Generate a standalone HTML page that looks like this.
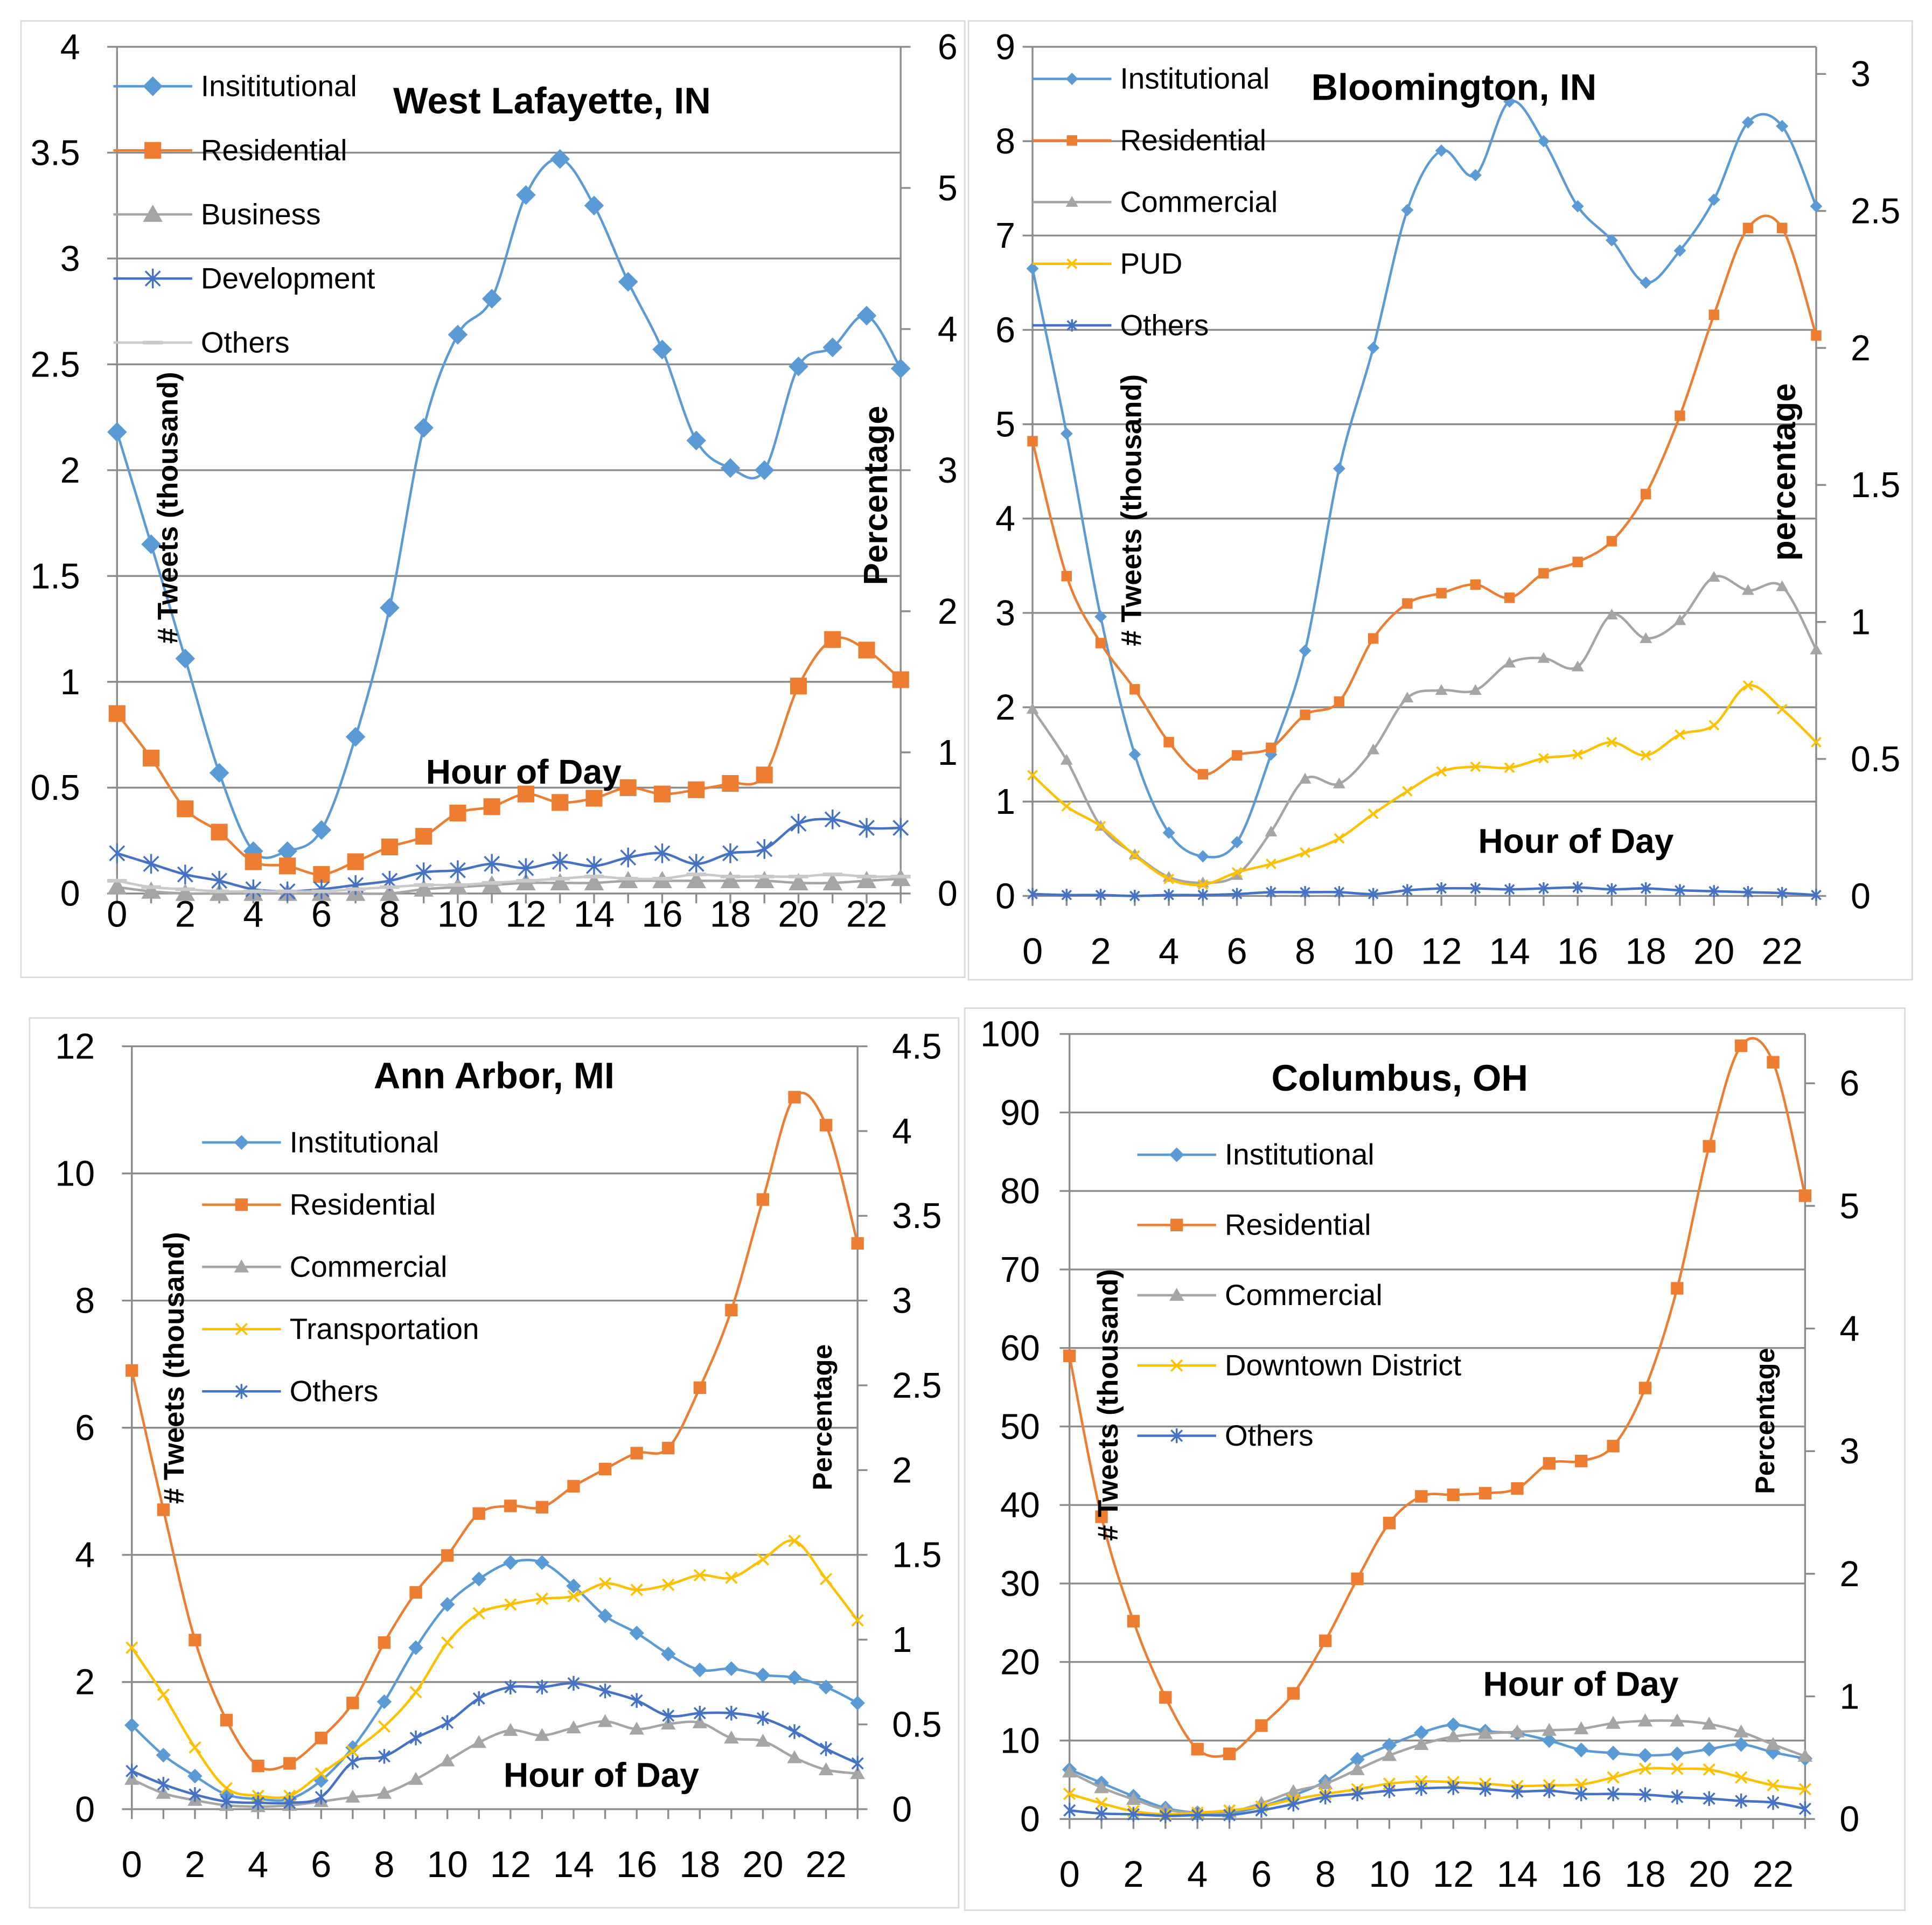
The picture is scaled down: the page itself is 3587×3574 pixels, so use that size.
<!DOCTYPE html>
<html><head><meta charset="utf-8">
<style>
html,body{margin:0;padding:0;background:#fff;}
svg{display:block;}
text{font-family:"Liberation Sans","DejaVu Sans",sans-serif;}
</style></head>
<body>
<svg id="fig" width="3587" height="3574" viewBox="0 0 1568 1562" preserveAspectRatio="none" xmlns="http://www.w3.org/2000/svg">
<rect x="0" y="0" width="1568" height="1562" fill="#fff"/>
</svg>
<script>
const hours = [0,1,2,3,4,5,6,7,8,9,10,11,12,13,14,15,16,17,18,19,20,21,22,23];
// West Lafayette
const wlInst = [2.18,1.65,1.11,0.57,0.2,0.2,0.3,0.74,1.35,2.2,2.64,2.81,3.3,3.47,3.25,2.89,2.57,2.14,2.01,2.0,2.49,2.58,2.73,2.48];
const wlRes  = [0.85,0.64,0.4,0.29,0.15,0.13,0.09,0.15,0.22,0.27,0.38,0.41,0.47,0.43,0.45,0.5,0.47,0.49,0.52,0.56,0.98,1.2,1.15,1.01];
const wlBus  = [0.03,0.01,0.0,0.0,0.0,0.0,0.0,0.0,0.0,0.02,0.03,0.04,0.05,0.05,0.05,0.06,0.06,0.06,0.06,0.06,0.05,0.05,0.06,0.07];
const wlDev  = [0.19,0.14,0.09,0.06,0.02,0.01,0.02,0.04,0.06,0.1,0.11,0.14,0.12,0.15,0.13,0.17,0.19,0.14,0.19,0.21,0.33,0.35,0.31,0.31];
const wlOth  = [0.06,0.03,0.02,0.01,0.01,0.01,0.01,0.02,0.03,0.04,0.04,0.05,0.06,0.07,0.08,0.07,0.07,0.09,0.08,0.08,0.08,0.09,0.08,0.08];
const wlLeftTicks = ["0","0.5","1","1.5","2","2.5","3","3.5","4"];
const wlRightTicks = ["0","1","2","3","4","5","6"];
// Bloomington
const blInst = [6.65,4.9,2.96,1.5,0.67,0.42,0.57,1.5,2.6,4.53,5.81,7.27,7.9,7.64,8.42,8.0,7.31,6.95,6.5,6.84,7.38,8.2,8.16,7.31];
const blRes  = [4.82,3.39,2.68,2.19,1.63,1.29,1.49,1.57,1.92,2.06,2.73,3.1,3.21,3.3,3.16,3.42,3.54,3.76,4.26,5.09,6.16,7.08,7.08,5.94];
const blCom  = [1.98,1.44,0.74,0.44,0.2,0.14,0.22,0.68,1.24,1.19,1.55,2.1,2.18,2.18,2.47,2.52,2.43,2.98,2.73,2.92,3.38,3.24,3.28,2.61];
const blPud  = [1.28,0.95,0.74,0.43,0.18,0.12,0.25,0.34,0.46,0.61,0.87,1.11,1.32,1.37,1.36,1.46,1.5,1.63,1.49,1.71,1.81,2.23,1.98,1.63];
const blOth  = [0.02,0.01,0.01,0.0,0.01,0.01,0.02,0.04,0.04,0.04,0.02,0.06,0.08,0.08,0.07,0.08,0.09,0.07,0.08,0.06,0.05,0.04,0.03,0.01];
const blLeftTicks = ["0","1","2","3","4","5","6","7","8","9"];
const blRightTicks = ["0","0.5","1","1.5","2","2.5","3"];
// Ann Arbor
const aaInst = [1.32,0.85,0.52,0.23,0.16,0.16,0.45,0.97,1.69,2.54,3.22,3.62,3.88,3.88,3.51,3.04,2.77,2.44,2.19,2.21,2.11,2.07,1.92,1.67];
const aaRes  = [6.9,4.71,2.66,1.4,0.68,0.72,1.12,1.67,2.62,3.41,3.99,4.65,4.77,4.75,5.08,5.35,5.6,5.68,6.63,7.85,9.59,11.2,10.76,8.9];
const aaCom  = [0.47,0.25,0.14,0.06,0.04,0.06,0.12,0.19,0.25,0.47,0.76,1.05,1.24,1.16,1.28,1.38,1.26,1.34,1.36,1.12,1.07,0.81,0.62,0.56];
const aaTra  = [2.54,1.8,0.97,0.33,0.21,0.21,0.56,0.91,1.3,1.84,2.62,3.08,3.22,3.31,3.35,3.55,3.45,3.53,3.68,3.64,3.93,4.22,3.62,2.97];
const aaOth  = [0.6,0.39,0.23,0.12,0.1,0.1,0.19,0.74,0.83,1.12,1.36,1.74,1.92,1.92,1.98,1.86,1.71,1.47,1.51,1.51,1.43,1.22,0.95,0.72];
const aaLeftTicks = ["0","2","4","6","8","10","12"];
const aaRightTicks = ["0","0.5","1","1.5","2","2.5","3","3.5","4","4.5"];
// Columbus
const coInst = [6.3,4.6,2.9,1.4,0.8,0.8,1.6,3,4.8,7.6,9.4,11,12,11.2,10.9,10,8.8,8.4,8.1,8.3,8.9,9.5,8.5,7.7];
const coRes  = [59,38.5,25.2,15.5,8.9,8.3,11.9,16,22.7,30.6,37.7,41.1,41.3,41.5,42.1,45.3,45.6,47.5,54.9,67.6,85.7,98.5,96.4,79.4];
const coCom  = [6,4,2.5,1.2,0.8,0.9,2,3.5,4.5,6.3,8.1,9.5,10.5,10.9,11.1,11.3,11.5,12.2,12.5,12.5,12.1,11.1,9.5,8];
const coDt   = [3.2,2,1,0.6,0.8,1.1,1.6,2.5,3.2,3.8,4.5,4.8,4.7,4.5,4.2,4.3,4.4,5.3,6.4,6.4,6.3,5.3,4.3,3.8];
const coOth  = [1.1,0.7,0.6,0.4,0.5,0.5,1.1,1.9,2.8,3.2,3.6,3.9,4,3.8,3.5,3.6,3.2,3.2,3.1,2.8,2.6,2.3,2.1,1.3];
const coLeftTicks = ["0","10","20","30","40","50","60","70","80","90","100"];
const coRightTicks = ["0","1","2","3","4","5","6"];
const xTickLabels = ["0","2","4","6","8","10","12","14","16","18","20","22"];

const NS = "http://www.w3.org/2000/svg";
const svg = document.getElementById('fig');
function mk(tag, attrs, parent){ const e=document.createElementNS(NS,tag); for(const k in attrs) e.setAttribute(k,attrs[k]); (parent||svg).appendChild(e); return e; }
function txt(s, attrs, parent){ const e=mk('text',attrs,parent); e.textContent=s; return e; }

function smoothPath(pts){
  let d = `M${pts[0][0]},${pts[0][1]}`;
  for(let i=0;i<pts.length-1;i++){
    const p0=pts[Math.max(0,i-1)], p1=pts[i], p2=pts[i+1], p3=pts[Math.min(pts.length-1,i+2)];
    const c1=[p1[0]+(p2[0]-p0[0])/6, p1[1]+(p2[1]-p0[1])/6];
    const c2=[p2[0]-(p3[0]-p1[0])/6, p2[1]-(p3[1]-p1[1])/6];
    d += ` C${c1[0]},${c1[1]} ${c2[0]},${c2[1]} ${p2[0]},${p2[1]}`;
  }
  return d;
}
function marker(g, type, x, y, s, color){
  let e;
  if(type==='diamond') e=mk('polygon',{points:`${x},${y-s} ${x+s},${y} ${x},${y+s} ${x-s},${y}`,fill:color},g);
  else if(type==='square') e=mk('rect',{x:x-s*0.85,y:y-s*0.85,width:s*1.7,height:s*1.7,fill:color},g);
  else if(type==='triangle') e=mk('polygon',{points:`${x},${y-s} ${x+s},${y+s*0.75} ${x-s},${y+s*0.75}`,fill:color},g);
  else if(type==='x') e=mk('path',{d:`M${x-s*0.75},${y-s*0.75}L${x+s*0.75},${y+s*0.75}M${x-s*0.75},${y+s*0.75}L${x+s*0.75},${y-s*0.75}`,stroke:color,'stroke-width':1.6},g);
  else if(type==='star') e=mk('path',{d:`M${x-s*0.75},${y-s*0.75}L${x+s*0.75},${y+s*0.75}M${x-s*0.75},${y+s*0.75}L${x+s*0.75},${y-s*0.75}M${x},${y-s}L${x},${y+s}`,stroke:color,'stroke-width':1.5},g);
  else if(type==='dash') e=mk('rect',{x:x-s,y:y-1.5,width:s*2,height:3,fill:color},g);
  
  
  return e;
}

function chart(c){
  const g = mk('g',{});
  
  
  const fr = mk('rect',{x:c.frame[0],y:c.frame[1],width:c.frame[2],height:c.frame[3],fill:'none',stroke:'#d9d9d9','stroke-width':1.2},g);
   
  const yL = v => c.y0 - (v/c.lmax)*(c.y0-c.yTop);
  const yR = v => c.y0 - (v/c.rmax)*(c.y0-c.rTop);
  const xS = h => c.x0 + h*(c.x1-c.x0)/23;
  c.lticks.forEach(t=>{
    const v=parseFloat(t), y=yL(v);
    const gl = mk('line',{x1:c.x0-8,x2:c.x1,y1:y,y2:y,stroke:'#8c8c8c','stroke-width':1.5},g);
     
    const tl = txt(t,{x:c.x0-c.lpad,y:y+10,'font-size':29,'text-anchor':'end',fill:'#000'},g);
     
  });
  c.rticks.forEach(t=>{
    const v=parseFloat(t), y=yR(v);
    mk('line',{x1:c.x1,x2:c.x1+8,y1:y,y2:y,stroke:'#8c8c8c','stroke-width':1.5},g);
    const tl = txt(t,{x:c.x1+c.rpad,y:y+10,'font-size':29,'text-anchor':'start',fill:'#000'},g);
     
  });
  const la = mk('line',{x1:c.x0,x2:c.x0,y1:c.yTop,y2:c.y0+8,stroke:'#8c8c8c','stroke-width':1.5},g);
   
  const ra = mk('line',{x1:c.x1,x2:c.x1,y1:c.yTop,y2:c.y0,stroke:'#8c8c8c','stroke-width':1.5},g);
   
  hours.forEach(h=>{ mk('line',{x1:xS(h),x2:xS(h),y1:c.y0,y2:c.y0+8,stroke:'#8c8c8c','stroke-width':1.5},g); });
  xTickLabels.forEach(t=>{
    const tl = txt(t,{x:xS(parseFloat(t)),y:c.xlabY,'font-size':30,'text-anchor':'middle',fill:'#000'},g);
     
  });
  c.series.forEach((s,i)=>{
    const sg = mk('g',{},g);
    
    
    const pts = s.data.map((v,h)=>[xS(h), yL(v)]);
    const p = mk('path',{d:smoothPath(pts),fill:'none',stroke:s.color,'stroke-width':2},sg);
     
    pts.forEach(pt=>marker(sg,s.marker,pt[0],pt[1],c.ms,s.color));
    const ly = c.legY + i*c.legStep;
    const lg = mk('g',{},g);
     
    mk('line',{x1:c.legX,x2:c.legX+64,y1:ly,y2:ly,stroke:s.color,'stroke-width':2},lg);
    marker(lg,s.marker,c.legX+32,ly,c.ms,s.color);
    txt(s.label,{x:c.legX+71,y:ly+8,'font-size':24,fill:'#000'},lg);
  });
  const ti = txt(c.title,{x:c.titleX,y:c.titleY,'font-size':30,'font-weight':'bold','text-anchor':'middle',fill:'#000'},g);
   
  const xt = txt('Hour of Day',{x:c.hodX,y:c.hodY,'font-size':28,'font-weight':'bold','text-anchor':'middle',fill:'#000'},g);
   
  const yt = txt('# Tweets (thousand)',{x:0,y:0,'font-size':c.ytSize,'font-weight':'bold','text-anchor':'middle',fill:'#000',transform:`translate(${c.ytX},${c.ytY}) rotate(-90)`},g);
   
  const pt = txt(c.pctLabel,{x:0,y:0,'font-size':c.pctSize,'font-weight':'bold','text-anchor':'middle',fill:'#000',transform:`translate(${c.pctX},${c.pctY}) rotate(-90)`},g);
   
}

const BLUE='#5B9BD5', ORANGE='#ED7D31', GRAY='#A5A5A5', YELLOW='#FFC000', DBLUE='#4472C4', LGRAY='#C9C9C9';

chart({name:'west-lafayette-chart',frame:[17,17,766,776],x0:95,x1:731,y0:725,yTop:38,rTop:38,lmax:4,rmax:6,
  lticks:wlLeftTicks,rticks:wlRightTicks,lpad:30,rpad:30,xlabY:752,ms:8,
  legX:92,legY:70,legStep:52,title:'West Lafayette, IN',titleX:448,titleY:92,hodX:425,hodY:636,
  ytX:144,ytY:412,ytSize:23,pctLabel:'Percentage',pctX:720,pctY:402,pctSize:27,
  series:[{label:'Insititutional',data:wlInst,color:BLUE,marker:'diamond'},
          {label:'Residential',data:wlRes,color:ORANGE,marker:'square'},
          {label:'Business',data:wlBus,color:GRAY,marker:'triangle'},
          {label:'Development',data:wlDev,color:DBLUE,marker:'star'},
          {label:'Others',data:wlOth,color:LGRAY,marker:'dash'}]});

chart({name:'bloomington-chart',frame:[786,17,766,778],x0:838,x1:1474,y0:727,yTop:38,rTop:60,lmax:9,rmax:3,
  lticks:blLeftTicks,rticks:blRightTicks,lpad:14,rpad:28,xlabY:782,ms:5,
  legX:838,legY:64,legStep:50,title:'Bloomington, IN',titleX:1180,titleY:81,hodX:1279,hodY:692,
  ytX:926,ytY:414,ytSize:23,pctLabel:'percentage',pctX:1457,pctY:383,pctSize:27,
  series:[{label:'Institutional',data:blInst,color:BLUE,marker:'diamond'},
          {label:'Residential',data:blRes,color:ORANGE,marker:'square'},
          {label:'Commercial',data:blCom,color:GRAY,marker:'triangle'},
          {label:'PUD',data:blPud,color:YELLOW,marker:'x'},
          {label:'Others',data:blOth,color:DBLUE,marker:'star'}]});

chart({name:'ann-arbor-chart',frame:[24,826,754,722],x0:107,x1:696,y0:1468,yTop:849,rTop:849,lmax:12,rmax:4.5,
  lticks:aaLeftTicks,rticks:aaRightTicks,lpad:30,rpad:28,xlabY:1523,ms:6,
  legX:164,legY:927,legStep:50.5,title:'Ann Arbor, MI',titleX:401,titleY:883,hodX:488,hodY:1450,
  ytX:149,ytY:1110,ytSize:23,pctLabel:'Percentage',pctX:675,pctY:1150,pctSize:22,
  series:[{label:'Institutional',data:aaInst,color:BLUE,marker:'diamond'},
          {label:'Residential',data:aaRes,color:ORANGE,marker:'square'},
          {label:'Commercial',data:aaCom,color:GRAY,marker:'triangle'},
          {label:'Transportation',data:aaTra,color:YELLOW,marker:'x'},
          {label:'Others',data:aaOth,color:DBLUE,marker:'star'}]});

chart({name:'columbus-chart',frame:[783,818,763,732],x0:868,x1:1465,y0:1476,yTop:839,rTop:879,lmax:100,rmax:6,
  lticks:coLeftTicks,rticks:coRightTicks,lpad:24,rpad:28,xlabY:1531,ms:6,
  legX:923,legY:937,legStep:57,title:'Columbus, OH',titleX:1136,titleY:885,hodX:1283,hodY:1376,
  ytX:907,ytY:1140,ytSize:23,pctLabel:'Percentage',pctX:1440,pctY:1153,pctSize:22,
  series:[{label:'Institutional',data:coInst,color:BLUE,marker:'diamond'},
          {label:'Residential',data:coRes,color:ORANGE,marker:'square'},
          {label:'Commercial',data:coCom,color:GRAY,marker:'triangle'},
          {label:'Downtown District',data:coDt,color:YELLOW,marker:'x'},
          {label:'Others',data:coOth,color:DBLUE,marker:'star'}]});
</script>
</body></html>
